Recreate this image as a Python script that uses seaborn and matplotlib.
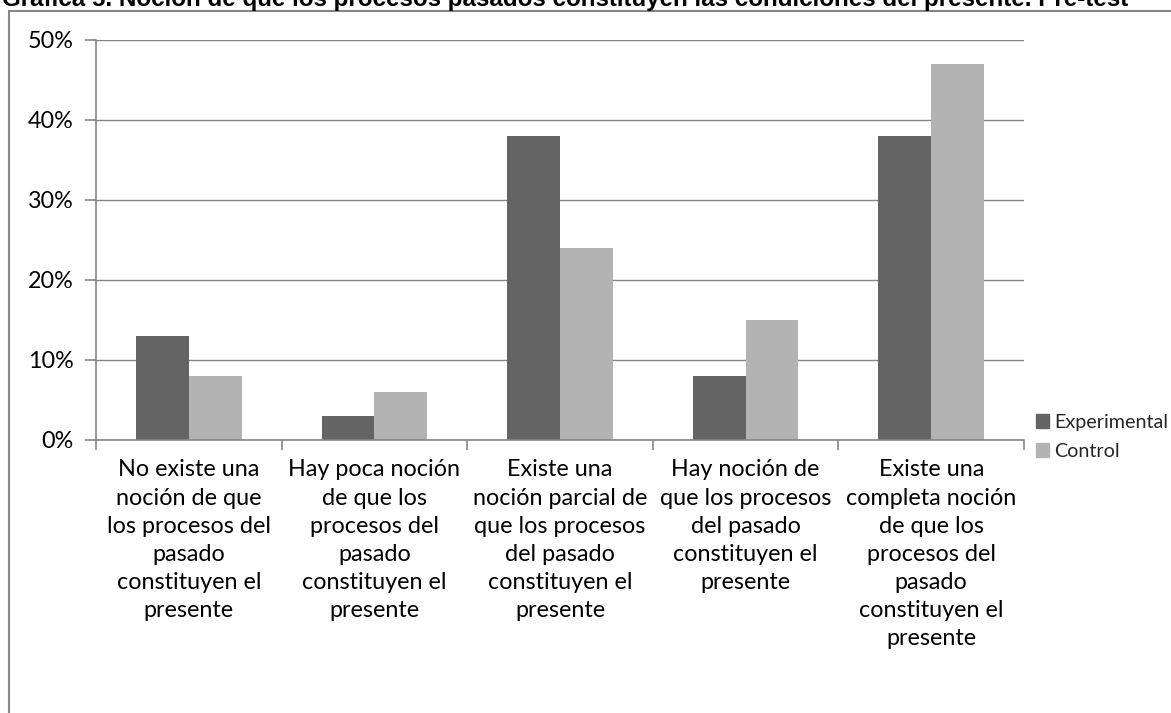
import matplotlib
matplotlib.use("Agg")
import matplotlib.pyplot as plt
import seaborn as sns
import pandas as pd
from matplotlib.ticker import PercentFormatter, FixedLocator
from matplotlib.lines import Line2D

categories = [
    "No existe una\nnoción de que\nlos procesos del\npasado\nconstituyen el\npresente",
    "Hay poca noción\nde que los\nprocesos del\npasado\nconstituyen el\npresente",
    "Existe una\nnoción parcial de\nque los procesos\ndel pasado\nconstituyen el\npresente",
    "Hay noción de\nque los procesos\ndel pasado\nconstituyen el\npresente",
    "Existe una\ncompleta noción\nde que los\nprocesos del\npasado\nconstituyen el\npresente",
]
experimental = [13, 3, 38, 8, 38]
control = [8, 6, 24, 15, 47]
series_names = ["Experimental", "Control"]
yticks = [0, 10, 20, 30, 40, 50]
title = "Gráfica 5. Noción de que los procesos pasados constituyen las condiciones del presente. Pre-test"

df = pd.DataFrame({
    "cat": categories * 2,
    "val": experimental + control,
    "serie": [series_names[0]] * 5 + [series_names[1]] * 5,
})

sns.set_theme(style="white")
plt.rcParams["font.family"] = ["Lato", "DejaVu Sans"]

W, H = 1171, 713
fs = 16.8
fig = plt.figure(figsize=(W / 100, H / 100), dpi=100)
ax = fig.add_axes([96 / W, 1 - 440 / H, (1024 - 96) / W, 400 / H])

colors = ["#646464", "#b3b3b3"]
sns.barplot(data=df, x="cat", y="val", hue="serie", palette=colors, saturation=1,
            width=0.57, ax=ax, legend=False, linewidth=0)

grid_c = "#868686"
ax.set_ylim(0, 50)
ax.set_xlim(-0.5, 4.5)
ax.set_yticks(yticks)
ax.yaxis.set_major_formatter(PercentFormatter(decimals=0))
ax.yaxis.grid(True, color=grid_c, linewidth=1)
ax.set_axisbelow(True)
ax.set_xlabel("")
ax.set_ylabel("")
for s in ["top", "right"]:
    ax.spines[s].set_visible(False)
for s in ["left", "bottom"]:
    ax.spines[s].set_color(grid_c)
    ax.spines[s].set_linewidth(1.2)
ax.tick_params(axis="y", which="major", length=8, width=1.2, color=grid_c, pad=8,
               labelsize=fs, labelcolor="#000000", left=True)
ax.tick_params(axis="x", which="major", length=0, pad=14, labelsize=fs, labelcolor="#000000")
ax.xaxis.set_minor_locator(FixedLocator([-0.5, 0.5, 1.5, 2.5, 3.5, 4.5]))
ax.tick_params(axis="x", which="minor", length=7, width=1.2, color=grid_c, bottom=True)
for lab in ax.get_xticklabels():
    lab.set_multialignment("center")
    lab.set_linespacing(1.42)
ax.spines["left"].set_bounds(0, 50)

handles = [plt.Rectangle((0, 0), 1, 1, color=c) for c in colors]
fig.legend(handles, series_names, loc="upper left", bbox_to_anchor=(1036 / W, 1 - 414 / H),
           frameon=False, fontsize=14.2, handlelength=0.68, handleheight=0.68,
           handletextpad=0.25, labelspacing=0.6, borderaxespad=0, borderpad=0)

# chart frame
fig.add_artist(Line2D([9 / W, 9 / W], [1 - 11 / H, 0], transform=fig.transFigure, color=grid_c, lw=1.5))
fig.add_artist(Line2D([9 / W, 1], [1 - 11 / H, 1 - 11 / H], transform=fig.transFigure, color=grid_c, lw=1.5))

# title, partly cut at the top as in the reference
t = fig.text(2 / W, 1 - 6 / H, title, ha="left", va="baseline",
             fontfamily=["Liberation Sans", "DejaVu Sans"], fontweight="bold", fontsize=16, color="#000000")
fig.canvas.draw()
bb = t.get_window_extent(renderer=fig.canvas.get_renderer())
t.set_fontsize(16 * 1121 / bb.width)

fig.savefig("out.png", dpi=100)
